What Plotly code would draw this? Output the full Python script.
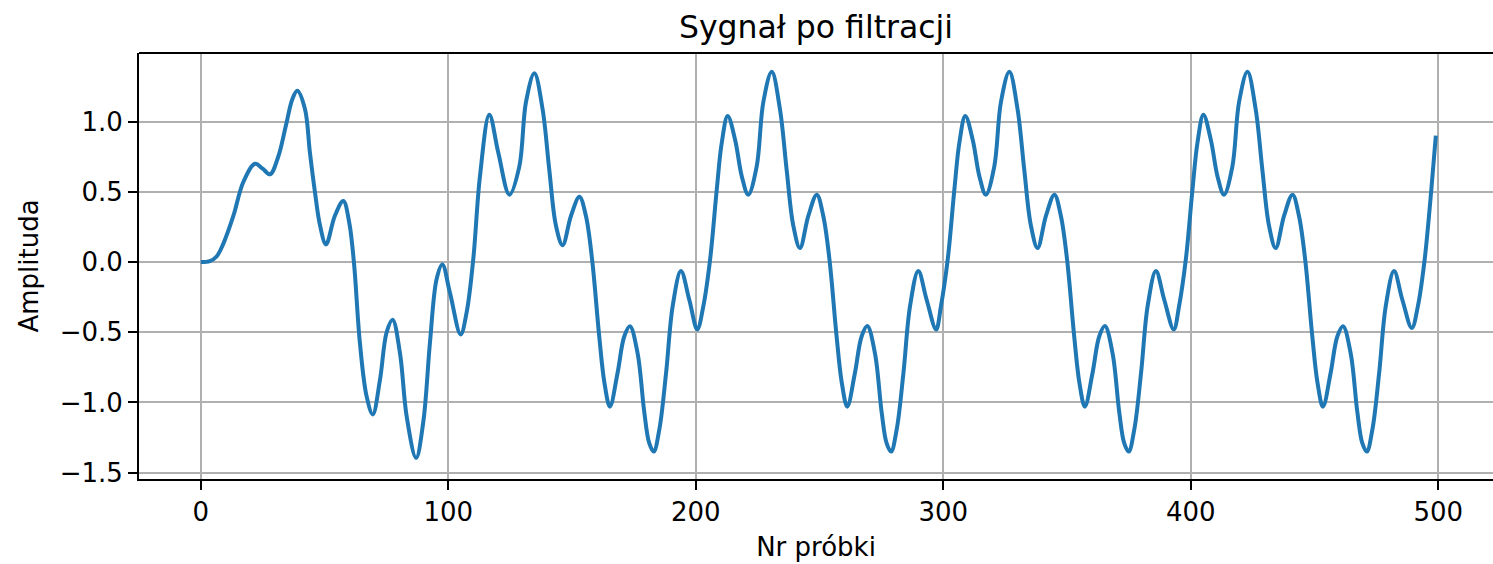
import plotly.graph_objects as go

# ---- data ----
# sample index (x) and amplitude (y), key points along the filtered signal
x_start = [0, 3.7, 6.4, 9.1, 13.2, 17.2, 21.9, 25.0, 28.0, 31.3, 34.5, 37.0, 39.0, 42.1, 44.1, 46.2,
           48.2, 50.6, 54.2, 57.6, 60.0, 61.9, 64.3, 67.0, 69.5, 72.4, 75.1, 77.5, 80.5, 83.2,
           87.0, 89.9, 92.6, 95.3, 97.6, 100.7, 105.0, 107.4, 110.1, 112.8, 116.6, 120.2, 124.7,
           128.7, 131.4, 134.8]
y_start = [0.0, 0.007, 0.04, 0.13, 0.33, 0.57, 0.70, 0.665, 0.625, 0.75, 0.98, 1.16, 1.22, 1.09, 0.78, 0.49,
           0.26, 0.126, 0.33, 0.435, 0.28, -0.005, -0.575, -0.955, -1.085, -0.84, -0.50, -0.41, -0.65, -1.10,
           -1.395, -1.14, -0.575, -0.12, -0.017, -0.22, -0.515, -0.36, 0.02, 0.61, 1.05, 0.78, 0.48,
           0.68, 1.14, 1.345]

x_p1 = [138.1, 140.8, 143.5, 146.2, 149.6, 153.0, 155.6, 158.1, 161.0, 163.1, 165.3, 168.4, 171.1,
        173.4, 176.5, 179.2, 181.2, 183.0, 185.3, 188.0, 190.7, 194.0, 197.4, 200.6]
y_p1 = [1.09, 0.66, 0.26, 0.12, 0.33, 0.465, 0.33, 0.02, -0.53, -0.86, -1.03, -0.79, -0.53,
        -0.457, -0.65, -1.07, -1.29, -1.35, -1.19, -0.79, -0.31, -0.064, -0.27, -0.48]

x_p2 = [203.1, 205.8, 208.5, 210.5, 212.9, 215.9, 218.6, 221.2, 224.6, 227.3, 230.7, 234.0, 236.7,
        239.4, 242.1, 245.5, 248.9, 251.5, 254.0, 256.9, 259.0, 261.2, 264.3, 267.0, 269.3, 272.4,
        275.1, 277.1, 278.9, 281.2, 283.9, 286.6, 289.9, 293.3, 297.1]
y_p2 = [-0.31, 0.02, 0.52, 0.85, 1.04, 0.87, 0.61, 0.48, 0.68, 1.14, 1.355, 1.09, 0.66,
        0.26, 0.10, 0.33, 0.48, 0.33, 0.02, -0.53, -0.86, -1.03, -0.79, -0.53, -0.456, -0.65,
        -1.07, -1.29, -1.35, -1.19, -0.79, -0.31, -0.064, -0.27, -0.48]

x_p3 = [299.1, 301.8, 304.5, 306.5, 308.9, 311.9, 314.6, 317.2, 320.6, 323.3, 326.7, 330.0, 332.7,
        335.4, 338.1, 341.5, 344.9, 347.5, 350.0, 352.9, 355.0, 357.2, 360.3, 363.0, 365.3, 368.4,
        371.1, 373.1, 374.9, 377.2, 379.9, 382.6, 385.9, 389.3, 393.1]
y_p3 = [-0.31, 0.02, 0.52, 0.85, 1.04, 0.87, 0.61, 0.48, 0.68, 1.14, 1.355, 1.09, 0.66,
        0.26, 0.10, 0.33, 0.48, 0.33, 0.02, -0.53, -0.86, -1.03, -0.79, -0.53, -0.456, -0.65,
        -1.07, -1.29, -1.35, -1.19, -0.79, -0.31, -0.064, -0.27, -0.48]

x_p4 = [395.3, 398.0, 400.7, 402.7, 405.1, 408.1, 410.8, 413.4, 416.8, 419.5, 422.9, 426.2, 428.9,
        431.6, 434.3, 437.7, 441.1, 443.7, 446.2, 449.1, 451.2, 453.4, 456.5, 459.2, 461.5, 464.6,
        467.3, 469.3, 471.1, 473.4, 476.1, 478.8, 482.1, 485.5, 489.3]
y_p4 = [-0.31, 0.02, 0.52, 0.85, 1.05, 0.87, 0.61, 0.48, 0.68, 1.14, 1.355, 1.09, 0.66,
        0.26, 0.10, 0.33, 0.48, 0.33, 0.02, -0.53, -0.86, -1.03, -0.79, -0.53, -0.457, -0.65,
        -1.07, -1.29, -1.35, -1.19, -0.79, -0.31, -0.064, -0.27, -0.47]

x_end = [491.8, 494.5, 497.2, 499.0]
y_end = [-0.31, 0.02, 0.52, 0.90]

x_ticks = [0, 100, 200, 300, 400, 500]
y_ticks = [-1.5, -1.0, -0.5, 0.0, 0.5, 1.0]

title_text = "Sygnał po filtracji"
x_label = "Nr próbki"
y_label = "Amplituda"

xs = x_start + x_p1 + x_p2 + x_p3 + x_p4 + x_end
ys = y_start + y_p1 + y_p2 + y_p3 + y_p4 + y_end

FONT = "DejaVu Sans"

fig = go.Figure()
fig.add_trace(go.Scatter(
    x=xs, y=ys, mode="lines",
    line=dict(color="#1f77b4", width=4, shape="spline", smoothing=1.0),
    showlegend=False, hoverinfo="skip",
))

fig.update_layout(
    width=1493, height=564,
    margin=dict(l=139, r=0, t=53, b=85, pad=0),
    paper_bgcolor="white", plot_bgcolor="white",
    font=dict(family=FONT, size=26, color="black"),
    title=dict(text=title_text, x=0.5, xref="paper", xanchor="center",
               y=1 - 27 / 564, yref="container", yanchor="middle",
               font=dict(family=FONT, size=31.5, color="black")),
    showlegend=False,
)

fig.update_xaxes(
    range=[-24.95, 522.1], tickvals=x_ticks, ticktext=[str(v) for v in x_ticks],
    showgrid=True, gridcolor="#b0b0b0", gridwidth=2,
    zeroline=False, showline=True, linecolor="black", linewidth=2,
    ticks="outside", ticklen=9, tickwidth=2, tickcolor="black",
    tickfont=dict(family=FONT, size=26, color="black"),
    title=dict(text=x_label, font=dict(family=FONT, size=26, color="black"), standoff=12),
)
fig.update_yaxes(
    range=[-1.545, 1.489], tickvals=y_ticks, tickformat=".1f",
    showgrid=True, gridcolor="#b0b0b0", gridwidth=2,
    zeroline=False, showline=True, linecolor="black", linewidth=2,
    ticks="outside", ticklen=9, tickwidth=2, tickcolor="black",
    tickfont=dict(family=FONT, size=26, color="black"),
    title=dict(text=y_label, font=dict(family=FONT, size=26, color="black"), standoff=14),
)

# top spine
fig.add_shape(type="line", xref="paper", yref="paper", x0=0, x1=1, y0=1, y1=1,
              line=dict(color="black", width=2))

fig.write_html("out.html", config={"displayModeBar": False},
               post_script="document.body.style.margin='0';document.body.style.overflow='hidden';")
